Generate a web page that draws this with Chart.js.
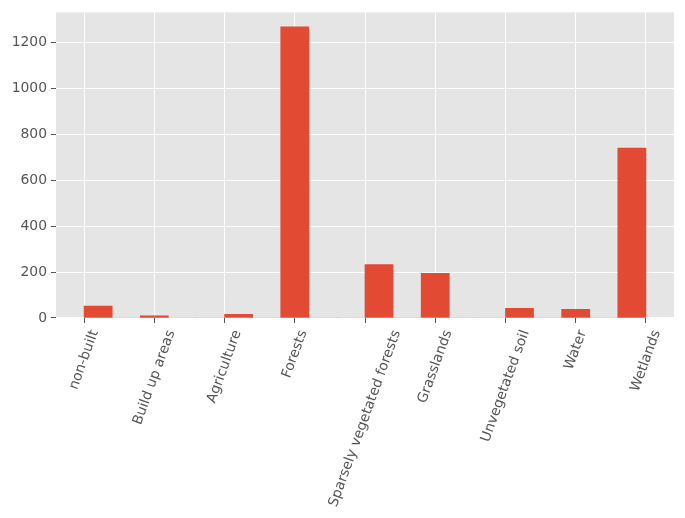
<!DOCTYPE html>
<html>
<head>
<meta charset="utf-8">
<script src="https://cdn.jsdelivr.net/npm/chart.js@4/dist/chart.umd.min.js"></script>
<style>
  html, body { margin: 0; padding: 0; background: #fff; }
  canvas { display: block; }
</style>
</head>
<body>
<canvas id="histChart" width="685" height="518"></canvas>
<script>
'use strict';

// Land-cover classes (x positions 0..8) and their counts
const categories = [
  'non-built',
  'Build up areas',
  'Agriculture',
  'Forests',
  'Sparsely vegetated forests',
  'Grasslands',
  'Unvegetated soil',
  'Water',
  'Wetlands'
];
const counts = [52, 9, 16, 1268, 233, 194, 42, 38, 740];

// Histogram spec: 20 bins over 0..8
const binCount = 20;
const yTicks = [0, 200, 400, 600, 800, 1000, 1200];
const yMax = 1331;

const tickColor = '#555555';
const fontFamily = '"DejaVu Sans", sans-serif';
const fontSize = 13.9;

// Build the bins the way a histogram would
const lastPos = categories.length - 1;
const binWidth = lastPos / binCount;
const binCounts = new Array(binCount).fill(0);
categories.forEach((name, i) => {
  const b = Math.min(Math.floor(i / binWidth + 1e-9), binCount - 1);
  binCounts[b] += counts[i];
});
const binPoints = binCounts.map((v, b) => ({ x: (b + 0.5) * binWidth, y: v }));

// Gray plot area background
const plotBackground = {
  id: 'plotBackground',
  beforeDraw(chart) {
    const { ctx, chartArea: a } = chart;
    ctx.save();
    ctx.fillStyle = '#E5E5E5';
    ctx.fillRect(a.left, a.top, a.right - a.left, a.bottom - a.top);
    ctx.restore();
  }
};

// X labels rotated 70°, bounding box centered on the tick
const rotatedLabels = {
  id: 'rotatedLabels',
  afterDraw(chart) {
    const { ctx } = chart;
    const xScale = chart.scales.x;
    const angle = 70 * Math.PI / 180;
    const top = chart.chartArea.bottom + 5 + 5;
    const h = fontSize * 1.16;
    ctx.save();
    ctx.font = `${fontSize}px ${fontFamily}`;
    ctx.fillStyle = tickColor;
    ctx.textAlign = 'center';
    ctx.textBaseline = 'middle';
    categories.forEach((label, i) => {
      const w = ctx.measureText(label).width;
      const boxH = w * Math.sin(angle) + h * Math.cos(angle);
      ctx.save();
      ctx.translate(xScale.getPixelForValue(i), top + boxH / 2);
      ctx.rotate(-angle);
      ctx.fillText(label, 0, 0);
      ctx.restore();
    });
    ctx.restore();
  }
};

const ctx = document.getElementById('histChart').getContext('2d');
new Chart(ctx, {
  type: 'bar',
  data: {
    datasets: [
      {
        data: binPoints,
        backgroundColor: '#E24A33',
        borderWidth: 0,
        barPercentage: 1,
        categoryPercentage: 1
      }
    ]
  },
  options: {
    responsive: false,
    animation: false,
    layout: { padding: { top: 11, right: 11, left: 0, bottom: 0 } },
    plugins: {
      legend: { display: false },
      tooltip: { enabled: false }
    },
    scales: {
      x: {
        type: 'linear',
        offset: false,
        min: -binWidth,
        max: lastPos + binWidth,
        afterFit: s => { s.height = 200; },
        afterBuildTicks: s => { s.ticks = categories.map((c, i) => ({ value: i })); },
        grid: { offset: false, color: '#ffffff', lineWidth: 1, tickColor: tickColor, tickLength: 5 },
        border: { display: false },
        ticks: { display: false }
      },
      y: {
        min: 0,
        max: yMax,
        afterFit: s => { s.width = 56; },
        afterBuildTicks: s => { s.ticks = yTicks.map(v => ({ value: v })); },
        grid: { color: '#ffffff', lineWidth: 1, tickColor: tickColor, tickLength: 5 },
        border: { display: false },
        ticks: {
          color: tickColor,
          padding: 4,
          font: { family: fontFamily, size: fontSize },
          callback: v => String(v)
        }
      }
    }
  },
  plugins: [plotBackground, rotatedLabels]
});
</script>
</body>
</html>
